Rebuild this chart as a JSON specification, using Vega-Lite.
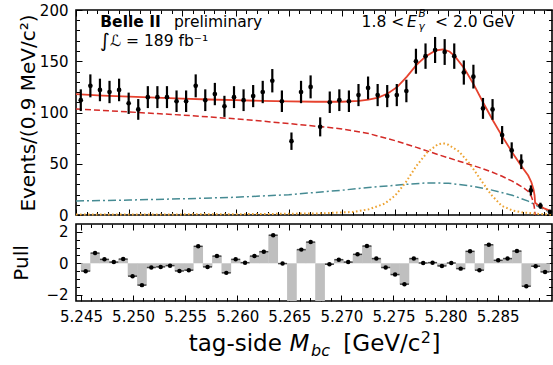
{
  "$schema": "https://vega.github.io/schema/vega-lite/v6.json",
  "autosize": {"type": "pad"},
  "padding": {"left": 11, "top": 2, "right": 0, "bottom": 0},
  "bounds": "flush",
  "spacing": 9,
  "config": {
    "font": "DejaVu Sans",
    "view": {"stroke": "black", "strokeWidth": 1.6},
    "axis": {"domain": false, "grid": false, "tickColor": "black", "tickWidth": 1, "labelColor": "black", "labelFont": "DejaVu Sans", "labelFontSize": 15, "labelFlush": false, "labelOverlap": false, "titleFont": "DejaVu Sans", "titleFontWeight": "normal", "titleColor": "black", "titleFontSize": 20}
  },
  "datasets": {
    "bins": [
      {"m": 5.24545, "n": 112, "e": 10.6, "p": -0.5},
      {"m": 5.24635, "n": 126, "e": 11.2, "p": 0.65},
      {"m": 5.24725, "n": 122, "e": 11.0, "p": 0.25},
      {"m": 5.24815, "n": 120, "e": 10.9, "p": 0.08},
      {"m": 5.24905, "n": 122, "e": 11.0, "p": 0.27},
      {"m": 5.24995, "n": 109, "e": 10.4, "p": -0.82},
      {"m": 5.25085, "n": 103, "e": 10.1, "p": -1.39},
      {"m": 5.25175, "n": 115, "e": 10.7, "p": -0.27},
      {"m": 5.25265, "n": 115, "e": 10.7, "p": -0.23},
      {"m": 5.25355, "n": 115, "e": 10.7, "p": -0.15},
      {"m": 5.25445, "n": 111, "e": 10.5, "p": -0.49},
      {"m": 5.25535, "n": 111, "e": 10.5, "p": -0.44},
      {"m": 5.25625, "n": 126, "e": 11.2, "p": 1.08},
      {"m": 5.25715, "n": 112, "e": 10.6, "p": -0.23},
      {"m": 5.25805, "n": 118, "e": 10.9, "p": 0.46},
      {"m": 5.25895, "n": 106, "e": 10.3, "p": -0.61},
      {"m": 5.25985, "n": 115, "e": 10.7, "p": 0.25},
      {"m": 5.26075, "n": 112, "e": 10.6, "p": 0.04},
      {"m": 5.26165, "n": 116, "e": 10.8, "p": 0.46},
      {"m": 5.26255, "n": 120, "e": 10.9, "p": 0.74},
      {"m": 5.26345, "n": 131, "e": 11.4, "p": 1.79},
      {"m": 5.26435, "n": 111, "e": 10.5, "p": -0.02},
      {"m": 5.26525, "n": 72, "e": 8.5, "p": -3.6},
      {"m": 5.26615, "n": 120, "e": 10.9, "p": 0.87},
      {"m": 5.26705, "n": 125, "e": 11.2, "p": 1.35},
      {"m": 5.26795, "n": 86, "e": 9.3, "p": -2.6},
      {"m": 5.26885, "n": 110, "e": 10.5, "p": -0.06},
      {"m": 5.26975, "n": 112, "e": 10.6, "p": 0.23},
      {"m": 5.27065, "n": 111, "e": 10.5, "p": 0.08},
      {"m": 5.27155, "n": 117, "e": 10.8, "p": 0.57},
      {"m": 5.27245, "n": 124, "e": 11.1, "p": 1.1},
      {"m": 5.27335, "n": 117, "e": 10.8, "p": 0.3},
      {"m": 5.27425, "n": 116, "e": 10.8, "p": -0.27},
      {"m": 5.27515, "n": 117, "e": 10.8, "p": -0.72},
      {"m": 5.27605, "n": 121, "e": 11.0, "p": -1.33},
      {"m": 5.27695, "n": 150, "e": 12.2, "p": 0.3},
      {"m": 5.27785, "n": 155, "e": 12.4, "p": 0.02},
      {"m": 5.27875, "n": 161, "e": 12.7, "p": 0.04},
      {"m": 5.27965, "n": 159, "e": 12.6, "p": -0.17},
      {"m": 5.28055, "n": 155, "e": 12.4, "p": 0.02},
      {"m": 5.28145, "n": 139, "e": 11.8, "p": -0.34},
      {"m": 5.28235, "n": 135, "e": 11.6, "p": 0.76},
      {"m": 5.28325, "n": 104, "e": 10.2, "p": -0.44},
      {"m": 5.28415, "n": 103, "e": 10.1, "p": 1.18},
      {"m": 5.28505, "n": 78, "e": 8.8, "p": 0.19},
      {"m": 5.28595, "n": 63, "e": 7.9, "p": 0.3},
      {"m": 5.28685, "n": 52, "e": 7.2, "p": 0.78},
      {"m": 5.28775, "n": 24, "e": 4.9, "p": -1.46},
      {"m": 5.28865, "n": 9, "e": 3.0, "p": -0.19},
      {"m": 5.28955, "n": 3, "e": 1.7, "p": -0.55}
    ],
    "curves": [
      {"c": "tot", "m": 5.245, "v": 118},
      {"c": "tot", "m": 5.2475, "v": 116.5},
      {"c": "tot", "m": 5.25, "v": 115.5},
      {"c": "tot", "m": 5.2525, "v": 114.5},
      {"c": "tot", "m": 5.255, "v": 113.5},
      {"c": "tot", "m": 5.2575, "v": 112.7},
      {"c": "tot", "m": 5.26, "v": 112},
      {"c": "tot", "m": 5.2625, "v": 111.3},
      {"c": "tot", "m": 5.265, "v": 110.8},
      {"c": "tot", "m": 5.2675, "v": 110.5},
      {"c": "tot", "m": 5.27, "v": 110.5},
      {"c": "tot", "m": 5.2716, "v": 111.3},
      {"c": "tot", "m": 5.2725, "v": 112.5},
      {"c": "tot", "m": 5.2734, "v": 114.5},
      {"c": "tot", "m": 5.2743, "v": 118.5},
      {"c": "tot", "m": 5.2752, "v": 125},
      {"c": "tot", "m": 5.2761, "v": 135},
      {"c": "tot", "m": 5.277, "v": 146.5},
      {"c": "tot", "m": 5.2779, "v": 155},
      {"c": "tot", "m": 5.2788, "v": 160.5},
      {"c": "tot", "m": 5.2795, "v": 161.5},
      {"c": "tot", "m": 5.2801, "v": 159.5},
      {"c": "tot", "m": 5.2806, "v": 155},
      {"c": "tot", "m": 5.2815, "v": 143},
      {"c": "tot", "m": 5.2824, "v": 127},
      {"c": "tot", "m": 5.2833, "v": 109},
      {"c": "tot", "m": 5.2842, "v": 92},
      {"c": "tot", "m": 5.2851, "v": 76},
      {"c": "tot", "m": 5.286, "v": 61},
      {"c": "tot", "m": 5.2869, "v": 47},
      {"c": "tot", "m": 5.2875, "v": 38.5},
      {"c": "tot", "m": 5.2878, "v": 32},
      {"c": "tot", "m": 5.288, "v": 25},
      {"c": "tot", "m": 5.2881, "v": 19},
      {"c": "tot", "m": 5.28815, "v": 12},
      {"c": "tot", "m": 5.2885, "v": 9},
      {"c": "tot", "m": 5.289, "v": 6.5},
      {"c": "tot", "m": 5.2897, "v": 3.5},
      {"c": "arg", "m": 5.245, "v": 103.5},
      {"c": "arg", "m": 5.2475, "v": 102},
      {"c": "arg", "m": 5.25, "v": 100.5},
      {"c": "arg", "m": 5.2525, "v": 99},
      {"c": "arg", "m": 5.255, "v": 97.5},
      {"c": "arg", "m": 5.2575, "v": 95.7},
      {"c": "arg", "m": 5.26, "v": 93.8},
      {"c": "arg", "m": 5.2625, "v": 91.6},
      {"c": "arg", "m": 5.265, "v": 89.2},
      {"c": "arg", "m": 5.2675, "v": 86.7},
      {"c": "arg", "m": 5.27, "v": 84},
      {"c": "arg", "m": 5.2725, "v": 79.5},
      {"c": "arg", "m": 5.275, "v": 72.5},
      {"c": "arg", "m": 5.277, "v": 66},
      {"c": "arg", "m": 5.279, "v": 59},
      {"c": "arg", "m": 5.281, "v": 52.5},
      {"c": "arg", "m": 5.283, "v": 46},
      {"c": "arg", "m": 5.284, "v": 42.3},
      {"c": "arg", "m": 5.285, "v": 38},
      {"c": "arg", "m": 5.286, "v": 33},
      {"c": "arg", "m": 5.287, "v": 27},
      {"c": "arg", "m": 5.2875, "v": 23},
      {"c": "arg", "m": 5.2878, "v": 18},
      {"c": "arg", "m": 5.288, "v": 12},
      {"c": "arg", "m": 5.2881, "v": 6},
      {"c": "arg", "m": 5.28815, "v": 0},
      {"c": "bkg", "m": 5.245, "v": 13.7},
      {"c": "bkg", "m": 5.25, "v": 14.6},
      {"c": "bkg", "m": 5.255, "v": 15.8},
      {"c": "bkg", "m": 5.26, "v": 17.3},
      {"c": "bkg", "m": 5.265, "v": 19.8},
      {"c": "bkg", "m": 5.27, "v": 24.2},
      {"c": "bkg", "m": 5.2725, "v": 26.8},
      {"c": "bkg", "m": 5.275, "v": 29},
      {"c": "bkg", "m": 5.2765, "v": 30.3},
      {"c": "bkg", "m": 5.278, "v": 31.3},
      {"c": "bkg", "m": 5.28, "v": 31},
      {"c": "bkg", "m": 5.282, "v": 28.5},
      {"c": "bkg", "m": 5.284, "v": 24.5},
      {"c": "bkg", "m": 5.286, "v": 19.3},
      {"c": "bkg", "m": 5.2875, "v": 13.5},
      {"c": "bkg", "m": 5.2885, "v": 8},
      {"c": "bkg", "m": 5.2897, "v": 2},
      {"c": "sig", "m": 5.245, "v": 0.5},
      {"c": "sig", "m": 5.255, "v": 0.6},
      {"c": "sig", "m": 5.262, "v": 0.9},
      {"c": "sig", "m": 5.268, "v": 1.6},
      {"c": "sig", "m": 5.271, "v": 3},
      {"c": "sig", "m": 5.2725, "v": 5.5},
      {"c": "sig", "m": 5.274, "v": 11},
      {"c": "sig", "m": 5.275, "v": 19},
      {"c": "sig", "m": 5.276, "v": 32},
      {"c": "sig", "m": 5.277, "v": 48},
      {"c": "sig", "m": 5.278, "v": 61},
      {"c": "sig", "m": 5.279, "v": 69},
      {"c": "sig", "m": 5.2795, "v": 70},
      {"c": "sig", "m": 5.28, "v": 68.5},
      {"c": "sig", "m": 5.281, "v": 62},
      {"c": "sig", "m": 5.282, "v": 50},
      {"c": "sig", "m": 5.283, "v": 35},
      {"c": "sig", "m": 5.284, "v": 20},
      {"c": "sig", "m": 5.285, "v": 9},
      {"c": "sig", "m": 5.286, "v": 4.5},
      {"c": "sig", "m": 5.287, "v": 2.5},
      {"c": "sig", "m": 5.2885, "v": 1},
      {"c": "sig", "m": 5.2897, "v": 0.5}
    ]
  },
  "vconcat": [
    {
      "width": 476,
      "height": 205,
      "resolve": {"axis": {"x": "independent", "y": "independent"}},
      "layer": [
        {
          "data": {"name": "curves"},
          "transform": [{"filter": "datum.c === 'bkg'"}],
          "mark": {"type": "line", "color": "#468b93", "strokeWidth": 1.5, "strokeDash": [8, 3, 2, 3]},
          "encoding": {
            "x": {"field": "m", "type": "quantitative", "scale": {"domain": [5.245, 5.289737], "nice": false, "zero": false},
                  "axis": {"orient": "bottom", "values": [5.245, 5.25, 5.255, 5.26, 5.265, 5.27, 5.275, 5.28, 5.285], "labels": false, "tickSize": -6, "title": null}},
            "y": {"field": "v", "type": "quantitative", "scale": {"domain": [0, 200], "nice": false, "zero": false},
                  "axis": {"orient": "left", "values": [0, 50, 100, 150, 200], "tickSize": -6, "labelPadding": 14, "title": "Events/(0.9 MeV/c²)", "titlePadding": 1}}
          }
        },
        {
          "data": {"name": "curves"},
          "transform": [{"filter": "datum.c === 'arg'"}],
          "mark": {"type": "line", "color": "#d42a26", "strokeWidth": 1.5, "strokeDash": [6, 3]},
          "encoding": {
            "x": {"field": "m", "type": "quantitative",
                  "axis": {"orient": "bottom", "values": [5.246, 5.247, 5.248, 5.249, 5.251, 5.252, 5.253, 5.254, 5.256, 5.257, 5.258, 5.259, 5.261, 5.262, 5.263, 5.264, 5.266, 5.267, 5.268, 5.269, 5.271, 5.272, 5.273, 5.274, 5.276, 5.277, 5.278, 5.279, 5.281, 5.282, 5.283, 5.284, 5.286, 5.287, 5.288, 5.289], "labels": false, "tickSize": -3.5, "title": null}},
            "y": {"field": "v", "type": "quantitative",
                  "axis": {"orient": "left", "values": [10, 20, 30, 40, 60, 70, 80, 90, 110, 120, 130, 140, 160, 170, 180, 190], "labels": false, "tickSize": -3.5, "title": null}}
          }
        },
        {
          "data": {"name": "curves"},
          "transform": [{"filter": "datum.c === 'sig'"}],
          "mark": {"type": "line", "color": "#eda332", "strokeWidth": 2, "strokeDash": [1.6, 2.4]},
          "encoding": {
            "x": {"field": "m", "type": "quantitative",
                  "axis": {"orient": "top", "values": [5.245, 5.25, 5.255, 5.26, 5.265, 5.27, 5.275, 5.28, 5.285], "labels": false, "tickSize": -6, "title": null}},
            "y": {"field": "v", "type": "quantitative",
                  "axis": {"orient": "right", "values": [0, 50, 100, 150, 200], "labels": false, "tickSize": -6, "title": null}}
          }
        },
        {
          "data": {"name": "curves"},
          "transform": [{"filter": "datum.c === 'tot'"}],
          "mark": {"type": "line", "color": "#e6422e", "strokeWidth": 1.8},
          "encoding": {
            "x": {"field": "m", "type": "quantitative",
                  "axis": {"orient": "top", "values": [5.246, 5.247, 5.248, 5.249, 5.251, 5.252, 5.253, 5.254, 5.256, 5.257, 5.258, 5.259, 5.261, 5.262, 5.263, 5.264, 5.266, 5.267, 5.268, 5.269, 5.271, 5.272, 5.273, 5.274, 5.276, 5.277, 5.278, 5.279, 5.281, 5.282, 5.283, 5.284, 5.286, 5.287, 5.288, 5.289], "labels": false, "tickSize": -3.5, "title": null}},
            "y": {"field": "v", "type": "quantitative",
                  "axis": {"orient": "right", "values": [10, 20, 30, 40, 60, 70, 80, 90, 110, 120, 130, 140, 160, 170, 180, 190], "labels": false, "tickSize": -3.5, "title": null}}
          }
        },
        {
          "data": {"name": "bins"},
          "mark": {"type": "errorbar", "color": "black", "thickness": 2.2},
          "encoding": {
            "x": {"field": "m", "type": "quantitative", "axis": null},
            "y": {"field": "n", "type": "quantitative", "axis": null},
            "yError": {"field": "e"}
          }
        },
        {
          "data": {"name": "bins"},
          "mark": {"type": "circle", "color": "black", "size": 22, "opacity": 1},
          "encoding": {
            "x": {"field": "m", "type": "quantitative", "axis": null},
            "y": {"field": "n", "type": "quantitative", "axis": null}
          }
        },
        {
          "data": {"values": [{}]},
          "mark": {"type": "text", "text": "Belle II", "fontWeight": "bold", "fontSize": 15.5, "align": "left", "baseline": "alphabetic", "color": "black"},
          "encoding": {"x": {"datum": 5.247284, "type": "quantitative", "axis": null}, "y": {"datum": 183.7, "type": "quantitative", "axis": null}}
        },
        {
          "data": {"values": [{}]},
          "mark": {"type": "text", "text": "preliminary", "fontSize": 15.5, "align": "left", "baseline": "alphabetic", "color": "black"},
          "encoding": {"x": {"datum": 5.254211, "type": "quantitative", "axis": null}, "y": {"datum": 183.7, "type": "quantitative", "axis": null}}
        },
        {
          "data": {"values": [{}]},
          "mark": {"type": "text", "text": "∫", "fontSize": 19, "align": "left", "baseline": "alphabetic", "color": "black"},
          "encoding": {"x": {"datum": 5.247256, "type": "quantitative", "axis": null}, "y": {"datum": 164, "type": "quantitative", "axis": null}}
        },
        {
          "data": {"values": [{}]},
          "mark": {"type": "text", "text": "ℒ = 189 fb⁻¹", "fontSize": 15.5, "align": "left", "baseline": "alphabetic", "color": "black"},
          "encoding": {"x": {"datum": 5.248195, "type": "quantitative", "axis": null}, "y": {"datum": 165.2, "type": "quantitative", "axis": null}}
        },
        {
          "data": {"values": [{}]},
          "mark": {"type": "text", "text": "1.8 <", "fontSize": 15.5, "align": "left", "baseline": "alphabetic", "color": "black"},
          "encoding": {"x": {"datum": 5.271842, "type": "quantitative", "axis": null}, "y": {"datum": 183.7, "type": "quantitative", "axis": null}}
        },
        {
          "data": {"values": [{}]},
          "mark": {"type": "text", "text": "E", "fontSize": 15.5, "fontStyle": "italic", "align": "left", "baseline": "alphabetic", "color": "black"},
          "encoding": {"x": {"datum": 5.276109, "type": "quantitative", "axis": null}, "y": {"datum": 183.7, "type": "quantitative", "axis": null}}
        },
        {
          "data": {"values": [{}]},
          "mark": {"type": "text", "text": "B", "fontSize": 10.5, "fontStyle": "italic", "align": "left", "baseline": "alphabetic", "color": "black"},
          "encoding": {"x": {"datum": 5.27719, "type": "quantitative", "axis": null}, "y": {"datum": 193, "type": "quantitative", "axis": null}}
        },
        {
          "data": {"values": [{}]},
          "mark": {"type": "text", "text": "γ", "fontSize": 10.5, "fontStyle": "italic", "align": "left", "baseline": "alphabetic", "color": "black"},
          "encoding": {"x": {"datum": 5.27719, "type": "quantitative", "axis": null}, "y": {"datum": 180.5, "type": "quantitative", "axis": null}}
        },
        {
          "data": {"values": [{}]},
          "mark": {"type": "text", "text": "< 2.0 GeV", "fontSize": 15.5, "align": "left", "baseline": "alphabetic", "color": "black"},
          "encoding": {"x": {"datum": 5.278741, "type": "quantitative", "axis": null}, "y": {"datum": 183.7, "type": "quantitative", "axis": null}}
        }
      ]
    },
    {
      "width": 476,
      "height": 77,
      "resolve": {"axis": {"x": "independent", "y": "independent"}},
      "layer": [
        {
          "data": {"name": "bins"},
          "mark": {"type": "bar", "color": "#bfbfbf", "width": 9.7, "clip": true},
          "encoding": {
            "x": {"field": "m", "type": "quantitative", "scale": {"domain": [5.245, 5.289737], "nice": false, "zero": false},
                  "axis": {"orient": "bottom", "values": [5.245, 5.25, 5.255, 5.26, 5.265, 5.27, 5.275, 5.28, 5.285], "format": ".3f", "tickSize": -6, "labelPadding": 14, "title": null}},
            "y": {"field": "p", "type": "quantitative", "scale": {"domain": [-2.4, 2.5], "nice": false, "zero": false},
                  "axis": {"orient": "left", "values": [-2, 0, 2], "format": "d", "tickSize": -6, "labelPadding": 14, "title": "Pull", "titlePadding": 14}},
            "y2": {"datum": 0}
          }
        },
        {
          "data": {"name": "bins"},
          "mark": {"type": "tick", "orient": "horizontal", "color": "black", "size": 9, "thickness": 1.5, "clip": true},
          "encoding": {
            "x": {"field": "m", "type": "quantitative",
                  "axis": {"orient": "bottom", "values": [5.246, 5.247, 5.248, 5.249, 5.251, 5.252, 5.253, 5.254, 5.256, 5.257, 5.258, 5.259, 5.261, 5.262, 5.263, 5.264, 5.266, 5.267, 5.268, 5.269, 5.271, 5.272, 5.273, 5.274, 5.276, 5.277, 5.278, 5.279, 5.281, 5.282, 5.283, 5.284, 5.286, 5.287, 5.288, 5.289], "labels": false, "tickSize": -3.5, "title": null}},
            "y": {"field": "p", "type": "quantitative",
                  "axis": {"orient": "left", "values": [-1.5, -1, -0.5, 0.5, 1, 1.5], "labels": false, "tickSize": -3.5, "title": null}}
          }
        },
        {
          "data": {"name": "bins"},
          "mark": {"type": "circle", "color": "black", "size": 20, "opacity": 1, "clip": true},
          "encoding": {
            "x": {"field": "m", "type": "quantitative",
                  "axis": {"orient": "top", "values": [5.245, 5.25, 5.255, 5.26, 5.265, 5.27, 5.275, 5.28, 5.285], "labels": false, "tickSize": -6, "title": null}},
            "y": {"field": "p", "type": "quantitative",
                  "axis": {"orient": "right", "values": [-2, 0, 2], "labels": false, "tickSize": -6, "title": null}}
          }
        },
        {
          "data": {"name": "bins"},
          "mark": {"type": "circle", "opacity": 0, "clip": true},
          "encoding": {
            "x": {"field": "m", "type": "quantitative",
                  "axis": {"orient": "top", "values": [5.246, 5.247, 5.248, 5.249, 5.251, 5.252, 5.253, 5.254, 5.256, 5.257, 5.258, 5.259, 5.261, 5.262, 5.263, 5.264, 5.266, 5.267, 5.268, 5.269, 5.271, 5.272, 5.273, 5.274, 5.276, 5.277, 5.278, 5.279, 5.281, 5.282, 5.283, 5.284, 5.286, 5.287, 5.288, 5.289], "labels": false, "tickSize": -3.5, "title": null}},
            "y": {"field": "p", "type": "quantitative",
                  "axis": {"orient": "right", "values": [-1.5, -1, -0.5, 0.5, 1, 1.5], "labels": false, "tickSize": -3.5, "title": null}}
          }
        },
        {
          "data": {"values": [{}]},
          "mark": {"type": "text", "text": "tag-side", "fontSize": 23, "align": "left", "baseline": "alphabetic", "color": "black"},
          "encoding": {"x": {"datum": 5.255338, "type": "quantitative", "axis": null}, "y": {"datum": -5.59, "type": "quantitative", "axis": null}}
        },
        {
          "data": {"values": [{}]},
          "mark": {"type": "text", "text": "M", "fontSize": 23, "fontStyle": "italic", "align": "left", "baseline": "alphabetic", "color": "black"},
          "encoding": {"x": {"datum": 5.265019, "type": "quantitative", "axis": null}, "y": {"datum": -5.59, "type": "quantitative", "axis": null}}
        },
        {
          "data": {"values": [{}]},
          "mark": {"type": "text", "text": "bc", "fontSize": 16, "fontStyle": "italic", "align": "left", "baseline": "alphabetic", "color": "black"},
          "encoding": {"x": {"datum": 5.267086, "type": "quantitative", "axis": null}, "y": {"datum": -5.87, "type": "quantitative", "axis": null}}
        },
        {
          "data": {"values": [{}]},
          "mark": {"type": "text", "text": "[GeV/c", "fontSize": 23, "align": "left", "baseline": "alphabetic", "color": "black"},
          "encoding": {"x": {"datum": 5.270188, "type": "quantitative", "axis": null}, "y": {"datum": -5.59, "type": "quantitative", "axis": null}}
        },
        {
          "data": {"values": [{}]},
          "mark": {"type": "text", "text": "2", "fontSize": 16, "align": "left", "baseline": "alphabetic", "color": "black"},
          "encoding": {"x": {"datum": 5.277613, "type": "quantitative", "axis": null}, "y": {"datum": -5.07, "type": "quantitative", "axis": null}}
        },
        {
          "data": {"values": [{}]},
          "mark": {"type": "text", "text": "]", "fontSize": 23, "align": "left", "baseline": "alphabetic", "color": "black"},
          "encoding": {"x": {"datum": 5.278647, "type": "quantitative", "axis": null}, "y": {"datum": -5.59, "type": "quantitative", "axis": null}}
        }
      ]
    }
  ]
}
